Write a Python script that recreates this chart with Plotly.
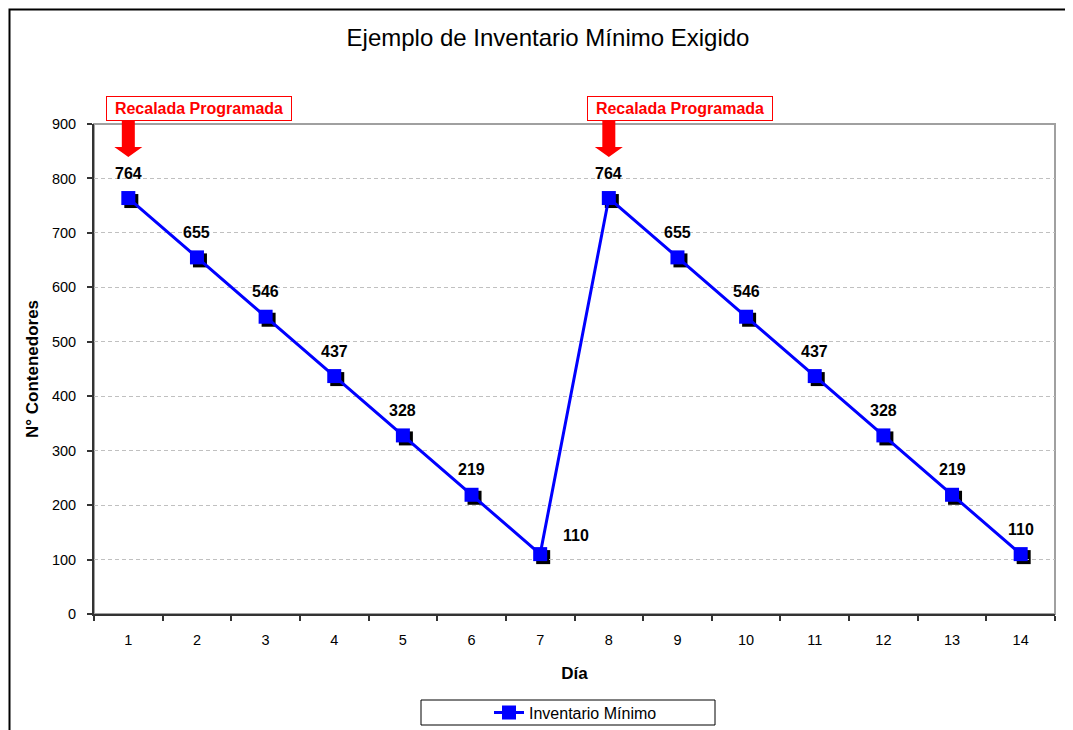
import plotly.graph_objects as go

# ---- data ----
dias = list(range(1, 15))
inventario = [764, 655, 546, 437, 328, 219, 110, 764, 655, 546, 437, 328, 219, 110]
dia_labels = [str(d) for d in dias]
y_ticks = list(range(0, 1000, 100))
eventos = [1, 8]
evento_texto = "Recalada Programada"
titulo = "Ejemplo de Inventario Mínimo Exigido"
serie = "Inventario Mínimo"
x_titulo = "Día"
y_titulo = "N° Contenedores"

# ---- layout geometry (pixels, page has an 8px body margin) ----
OFF = 8
W, H = 1073 - OFF, 730 - OFF
L, R, T, B = 94 - OFF, 1055 - OFF, 124 - OFF, 614 - OFF
pw, ph = R - L, B - T
x_range = [0.5, 14.5]
y_range = [0, 900]
ux = (x_range[1] - x_range[0]) / pw
uy = (y_range[1] - y_range[0]) / ph


def py(p):
    """reference-page pixel y -> paper y"""
    return (B - (p - OFF)) / ph


def px(p):
    """reference-page pixel x -> paper x"""
    return ((p - OFF) - L) / pw


FONT = "Liberation Sans, Arial, sans-serif"
BLUE = "#0000FF"
SH = 3  # marker shadow offset px

fig = go.Figure()

# shadow of markers (hidden axes x/y, shifted by a few pixels)
fig.add_trace(go.Scatter(
    x=dias, y=inventario, mode="markers", xaxis="x", yaxis="y",
    marker=dict(symbol="square", size=14, color="black"),
    showlegend=False, hoverinfo="skip"))

# main series on the visible axes
fig.add_trace(go.Scatter(
    x=dias, y=inventario, mode="lines+markers", name=serie,
    xaxis="x2", yaxis="y2",
    line=dict(color=BLUE, width=3),
    marker=dict(symbol="square", size=14, color=BLUE)))

annotations = []
label_shift = {6: (36, 19)}
for i, (d, v) in enumerate(zip(dias, inventario)):
    xs, ys = label_shift.get(i, (0, 25))
    annotations.append(dict(
        x=d, y=v, xref="x2", yref="y2", text=str(v), showarrow=False,
        xshift=xs, yshift=ys,
        font=dict(family=FONT, size=16, color="black", weight="bold")))

shapes = []
for d in eventos:
    annotations.append(dict(
        x=d, y=py(108), xref="x2", yref="paper", text=evento_texto,
        showarrow=False, xanchor="left", yanchor="middle", xshift=-22,
        bgcolor="white", bordercolor="red", borderwidth=1, borderpad=3,
        width=178, height=17,
        font=dict(family=FONT, size=16, color="red", weight="bold")))
    sw, hw = 6.5 * ux, 14 * ux
    yt, yb, ytip = py(120), py(147), py(157)
    path = (f"M {d - sw},{yt} L {d + sw},{yt} L {d + sw},{yb} L {d + hw},{yb} "
            f"L {d},{ytip} L {d - hw},{yb} L {d - sw},{yb} Z")
    shapes.append(dict(type="path", path=path, xref="x2", yref="paper",
                       fillcolor="red", line=dict(width=0), layer="above"))

# outer chart frame
shapes.append(dict(type="rect", xref="paper", yref="paper",
                   x0=px(9.5), x1=1.2, y0=-0.5, y1=py(9.5),
                   line=dict(color="black", width=2)))
# plot area border (top/right gray)
shapes.append(dict(type="rect", xref="paper", yref="paper",
                   x0=0, x1=1, y0=0, y1=1, layer="below",
                   line=dict(color="#a0a0a0", width=2)))
# legend box
shapes.append(dict(type="rect", xref="paper", yref="paper",
                   x0=px(421), x1=px(715), y0=py(725), y1=py(700),
                   line=dict(color="black", width=1)))

tickfont = dict(family=FONT, size=14.5, color="black")
titlefont = dict(family=FONT, size=17, color="black", weight="bold")

fig.update_layout(
    width=W, height=H,
    margin=dict(l=L, r=W - R, t=T, b=H - B, autoexpand=False),
    paper_bgcolor="white", plot_bgcolor="rgba(0,0,0,0)",
    title=dict(text=titulo, x=(548 - OFF) / W, xref="container", xanchor="center",
               y=1 - (38 - OFF) / H, yref="container", yanchor="middle",
               font=dict(family=FONT, size=24, color="black")),
    xaxis=dict(range=[x_range[0] - SH * ux, x_range[1] - SH * ux],
               visible=False, anchor="y", domain=[0, 1]),
    yaxis=dict(range=[y_range[0] + SH * uy, y_range[1] + SH * uy],
               visible=False, anchor="x", domain=[0, 1]),
    xaxis2=dict(range=x_range, anchor="y2", domain=[0, 1],
                tickmode="array", tickvals=dias, ticktext=dia_labels,
                ticks="", ticklabelstandoff=12,
                minor=dict(tickmode="linear", tick0=0.5, dtick=1,
                           ticks="outside", ticklen=5, tickcolor="#333333",
                           tickwidth=2, showgrid=False),
                showgrid=False, zeroline=False,
                showline=True, linecolor="#333333", linewidth=2,
                tickfont=tickfont,
                title=dict(text=x_titulo, font=titlefont, standoff=20)),
    yaxis2=dict(range=y_range, anchor="x2", domain=[0, 1],
                tickmode="array", tickvals=y_ticks,
                ticks="outside", ticklen=5, tickcolor="#333333", tickwidth=2,
                ticklabelstandoff=8,
                showgrid=True, gridcolor="#c0c0c0", gridwidth=1,
                griddash="4px,3px", zeroline=False,
                showline=True, linecolor="#333333", linewidth=2,
                tickfont=tickfont,
                title=dict(text=y_titulo, font=titlefont, standoff=9)),
    showlegend=True,
    legend=dict(xref="container", yref="container", x=(489 - OFF) / W,
                xanchor="left", y=1 - (712.5 - OFF) / H, yanchor="middle",
                orientation="h", bgcolor="rgba(0,0,0,0)", borderwidth=0,
                font=dict(family=FONT, size=16, color="black")),
    annotations=annotations,
    shapes=shapes,
)

fig.write_html("out.html")
